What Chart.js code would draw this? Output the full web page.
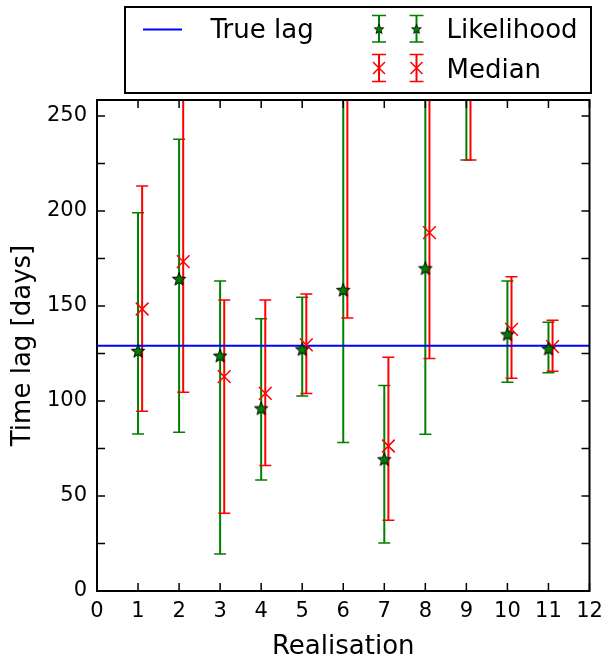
<!DOCTYPE html>
<html>
<head>
<meta charset="utf-8">
<script src="https://cdn.jsdelivr.net/npm/chart.js@4/dist/chart.umd.min.js"></script>
<style>body{margin:0;background:#fff}</style>
</head>
<body>
<canvas id="lagChart" width="602" height="660"></canvas>
<script>
// data (values above 258 are off the plot)
const realisation = [1, 2, 3, 4, 5, 6, 7, 8, 9, 10, 11];
const likelihood = [126.3, 164.2, 123.8, 96.1, 127.2, 158.4, 69.3, 169.8, 290, 135.1, 127.5];
const likeLow = [82.6, 83.5, 19.5, 58.4, 102.6, 78.1, 25.3, 82.5, 226.8, 109.8, 114.9];
const likeHigh = [199.1, 237.7, 163.2, 143.3, 154.6, 300, 108.1, 300, 350, 163.2, 141.4];
const median = [148.4, 173.3, 112.8, 104.0, 129.5, 280, 76.3, 188.6, 300, 137.7, 128.6];
const medLow = [94.6, 104.6, 40.9, 66.0, 104.0, 143.7, 37.2, 122.3, 226.8, 111.9, 115.6];
const medHigh = [213.2, 290, 153.2, 153.2, 156.3, 400, 123.0, 320, 380, 165.4, 142.5];
const trueLag = 129.1;
const medianShift = 0.1;
const xTicks = [0, 1, 2, 3, 4, 5, 6, 7, 8, 9, 10, 11, 12];
const yTicks = [0, 25, 50, 75, 100, 125, 150, 175, 200, 225, 250];

const GREEN = '#008000', RED = '#ff0000', BLUE = '#0000ff';
const FONT = "'DejaVu Sans', sans-serif";

// filled star marker (chart.js 'star' is only an asterisk)
function makeStar(size) {
    let c = document.createElement('canvas');
    c.width = size; c.height = size;
    let g = c.getContext('2d');
    let cx = size / 2, cy = size / 2 + 0.5, ro = size / 2 - 1, ri = ro * 0.42;
    g.beginPath();
    for (let i = 0; i < 10; i++) {
        let r = i % 2 ? ri : ro;
        let a = -Math.PI / 2 + i * Math.PI / 5;
        g.lineTo(cx + r * Math.cos(a), cy + r * Math.sin(a));
    }
    g.closePath();
    g.fillStyle = GREEN;
    g.fill();
    g.strokeStyle = '#000';
    g.lineWidth = 1;
    g.stroke();
    return c;
}
const starImg = makeStar(16);

function drawBar(ctx, x, yLo, yHi, color, cap) {
    ctx.strokeStyle = color;
    ctx.lineWidth = 2;
    ctx.beginPath();
    ctx.moveTo(x, yLo); ctx.lineTo(x, yHi);
    ctx.stroke();
    ctx.lineWidth = 1.5;
    ctx.beginPath();
    ctx.moveTo(x - cap, yLo); ctx.lineTo(x + cap, yLo);
    ctx.moveTo(x - cap, yHi); ctx.lineTo(x + cap, yHi);
    ctx.stroke();
}

const errorBars = {
    id: 'errorBars',
    beforeDatasetsDraw(chart) {
        let { ctx, chartArea: a, scales: { x, y } } = chart;
        ctx.save();
        ctx.beginPath();
        ctx.rect(a.left, a.top, a.right - a.left, a.bottom - a.top);
        ctx.clip();
        realisation.forEach((r, i) => {
            drawBar(ctx, x.getPixelForValue(r), y.getPixelForValue(likeLow[i]), y.getPixelForValue(likeHigh[i]), GREEN, 6);
            drawBar(ctx, x.getPixelForValue(r + medianShift), y.getPixelForValue(medLow[i]), y.getPixelForValue(medHigh[i]), RED, 6);
        });
        ctx.restore();
    }
};

const frameAndLegend = {
    id: 'frameAndLegend',
    afterDraw(chart) {
        let { ctx, chartArea: a, scales: { x, y } } = chart;
        ctx.save();
        // inward ticks on all sides
        ctx.strokeStyle = '#000';
        ctx.lineWidth = 1.5;
        ctx.beginPath();
        xTicks.forEach(v => {
            let px = x.getPixelForValue(v);
            ctx.moveTo(px, a.bottom); ctx.lineTo(px, a.bottom - 8);
            ctx.moveTo(px, a.top); ctx.lineTo(px, a.top + 8);
        });
        yTicks.forEach(v => {
            let py = y.getPixelForValue(v);
            ctx.moveTo(a.left, py); ctx.lineTo(a.left + 8, py);
            ctx.moveTo(a.right, py); ctx.lineTo(a.right - 8, py);
        });
        ctx.stroke();
        // frame
        ctx.lineWidth = 2;
        ctx.strokeRect(a.left, a.top, a.right - a.left, a.bottom - a.top);

        // legend box
        ctx.strokeRect(125, 7, 466, 86);
        ctx.strokeStyle = BLUE;
        ctx.beginPath();
        ctx.moveTo(143, 29.5); ctx.lineTo(182, 29.5);
        ctx.stroke();
        [379, 416.5].forEach(lx => {
            drawBar(ctx, lx, 15.5, 42, GREEN, 7);
            ctx.drawImage(starImg, lx - 6, 23, 12, 12);
            drawBar(ctx, lx, 54.5, 81.5, RED, 7);
            ctx.strokeStyle = RED;
            ctx.lineWidth = 1.5;
            ctx.beginPath();
            ctx.moveTo(lx - 6, 62); ctx.lineTo(lx + 6, 74);
            ctx.moveTo(lx + 6, 62); ctx.lineTo(lx - 6, 74);
            ctx.stroke();
        });
        ctx.fillStyle = '#000';
        ctx.font = '26px ' + FONT;
        ctx.textBaseline = 'alphabetic';
        ctx.fillText('True lag', 210.5, 37.7);
        ctx.fillText('Likelihood', 446.5, 37.7);
        ctx.fillText('Median', 446.5, 77.7);
        ctx.restore();
    }
};

let ctx = document.getElementById('lagChart');
new Chart(ctx, {
    type: 'scatter',
    data: {
        datasets: [{
            label: 'Likelihood',
            data: realisation.map((r, i) => ({ x: r, y: likelihood[i] })),
            pointStyle: starImg,
            pointRadius: 8,
            order: 1,
            clip: 0
        }, {
            label: 'Median',
            data: realisation.map((r, i) => ({ x: r + medianShift, y: median[i] })),
            pointStyle: 'crossRot',
            pointRadius: 9,
            borderColor: RED,
            borderWidth: 1.5,
            order: 2,
            clip: 0
        }, {
            type: 'line',
            label: 'True lag',
            data: [{ x: 0, y: trueLag }, { x: 12, y: trueLag }],
            borderColor: BLUE,
            borderWidth: 2,
            pointRadius: 0,
            order: 3,
            clip: 0
        }]
    },
    options: {
        responsive: false,
        animation: false,
        events: [],
        layout: { padding: { top: 100, right: 12.5, left: 0, bottom: 0 } },
        plugins: { legend: { display: false }, tooltip: { enabled: false } },
        scales: {
            x: {
                type: 'linear',
                min: 0,
                max: 12,
                afterFit: s => { s.height = 69; s.paddingLeft = 0; s.paddingRight = 0; },
                afterBuildTicks: s => { s.ticks = xTicks.map(v => ({ value: v })); },
                grid: { display: false, drawTicks: false },
                border: { display: false },
                ticks: { color: '#000', font: { family: FONT, size: 21 }, padding: 8, maxRotation: 0 },
                title: { display: true, text: 'Realisation', color: '#000', font: { family: FONT, size: 26, lineHeight: 1 }, padding: { top: 0, bottom: 0 } }
            },
            y: {
                min: 0,
                max: 258.4,
                afterFit: s => { s.width = 97; s.paddingTop = 0; s.paddingBottom = 0; },
                afterBuildTicks: s => { s.ticks = yTicks.map(v => ({ value: v })); },
                grid: { display: false, drawTicks: false },
                border: { display: false },
                ticks: {
                    color: '#000',
                    font: { family: FONT, size: 21 },
                    padding: 10,
                    callback: v => (v % 50 === 0 ? v : '')
                },
                title: { display: true, text: 'Time lag [days]', color: '#000', font: { family: FONT, size: 26, lineHeight: 1 }, padding: { top: 10, bottom: 0 } }
            }
        }
    },
    plugins: [errorBars, frameAndLegend]
});
</script>
</body>
</html>
